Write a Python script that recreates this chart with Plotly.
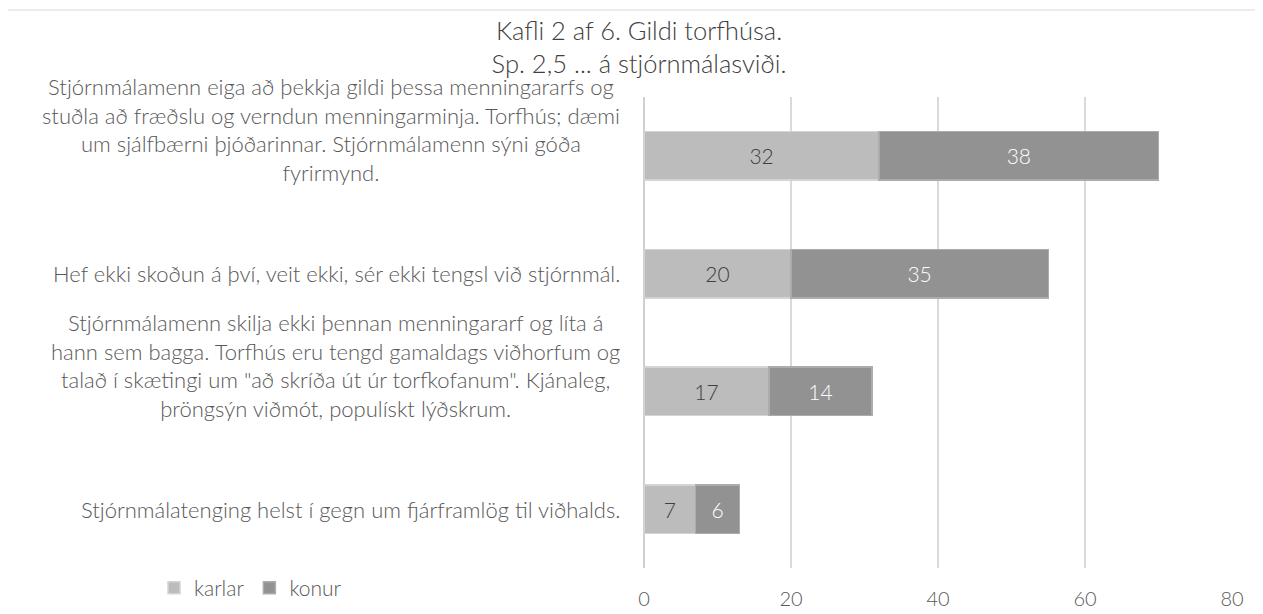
import plotly.graph_objects as go

categories = [
    "Stjórnmálamenn eiga að þekkja gildi þessa menningararfs og<br>stuðla að fræðslu og verndun menningarminja. Torfhús; dæmi<br>um sjálfbærni þjóðarinnar. Stjórnmálamenn sýni góða<br>fyrirmynd.",
    "Hef ekki skoðun á því, veit ekki, sér ekki tengsl við stjórnmál.",
    "Stjórnmálamenn skilja ekki þennan menningararf og líta á<br>hann sem bagga. Torfhús eru tengd gamaldags viðhorfum og<br>talað í skætingi um \"að skríða út úr torfkofanum\". Kjánaleg,<br>þröngsýn viðmót, populískt lýðskrum.",
    "Stjórnmálatenging helst í gegn um fjárframlög til viðhalds.",
]
karlar = [32, 20, 17, 7]
konur = [38, 35, 14, 6]
x_ticks = [0, 20, 40, 60, 80]
series_names = ["karlar", "konur"]

FONT = "Lato"
TXT = "#595959"

keys = [f"c{i}" for i in range(len(categories))]

fig = go.Figure()
fig.add_trace(go.Bar(
    y=keys, x=karlar, name=series_names[0], orientation="h",
    marker=dict(color="#bcbcbc", line=dict(color="#d4d4d4", width=1.5)),
    text=karlar, textposition="inside", insidetextanchor="middle",
    textfont=dict(family=FONT, size=21, color="#404040", weight=300),
))
fig.add_trace(go.Bar(
    y=keys, x=konur, name=series_names[1], orientation="h",
    marker=dict(color="#929292", line=dict(color="#acacac", width=1.5)),
    text=konur, textposition="inside", insidetextanchor="middle",
    textfont=dict(family=FONT, size=21, color="#ffffff", weight=300),
))

# page body has an 8px margin, so figure pixels = screen pixels - 8
W, H = 1255, 606
ml, mr, mt, mb = 636, 31, 89, 46
pw = W - ml - mr
ph = H - mt - mb

annotations = []
for k, lab in zip(keys, categories):
    nlines = lab.count("<br>") + 1
    annotations.append(dict(
        x=(614 - ml) / pw, xref="paper", xanchor="right",
        y=k, yref="y", yanchor="middle", yshift=26 if nlines > 1 else 0,
        text=lab, align="center", showarrow=False,
        font=dict(family=FONT, size=22, color=TXT, weight=300),
    ))

fig.add_shape(type="rect", xref="paper", yref="paper",
              x0=(-3 - ml) / pw, x1=(1265 - ml) / pw,
              y0=(H - mb - 630) / ph, y1=(H - mb - 2) / ph,
              line=dict(color="#d9d9d9", width=1), fillcolor="rgba(0,0,0,0)", layer="below")

fig.update_layout(
    width=W, height=H,
    margin=dict(l=ml, r=mr, t=mt, b=mb, autoexpand=False),
    paper_bgcolor="white", plot_bgcolor="white",
    barmode="stack", bargap=0.59,
    title=dict(text="Kafli 2 af 6. Gildi torfhúsa.<br>Sp. 2,5 ... á stjórnmálasviði.",
               x=(639 - 8) / W, xref="container", xanchor="center",
               y=1 - 32 / H, yref="container", yanchor="middle",
               font=dict(family=FONT, size=25.5, color="#404040", weight=300)),
    xaxis=dict(range=[0, 80], tickvals=x_ticks, showgrid=True, gridcolor="#d9d9d9", gridwidth=1.5,
               zeroline=True, zerolinecolor="#d0d0d0", zerolinewidth=1.5,
               ticks="outside", ticklen=13, tickcolor="rgba(0,0,0,0)", automargin=False,
               tickfont=dict(family=FONT, size=20, color=TXT, weight=300), showline=False),
    yaxis=dict(categoryorder="array", categoryarray=keys[::-1], range=[-0.5, len(keys) - 0.5],
               autorange=False, showticklabels=False, automargin=False,
               showgrid=False, zeroline=False, showline=False),
    legend=dict(orientation="h", x=(146 - ml) / pw, xanchor="left",
                y=(H - mb - 580) / ph, yanchor="middle",
                font=dict(family=FONT, size=21, color=TXT, weight=300),
                itemwidth=30, traceorder="normal", bgcolor="rgba(0,0,0,0)"),
    annotations=annotations,
)

fig.write_html("out.html")
